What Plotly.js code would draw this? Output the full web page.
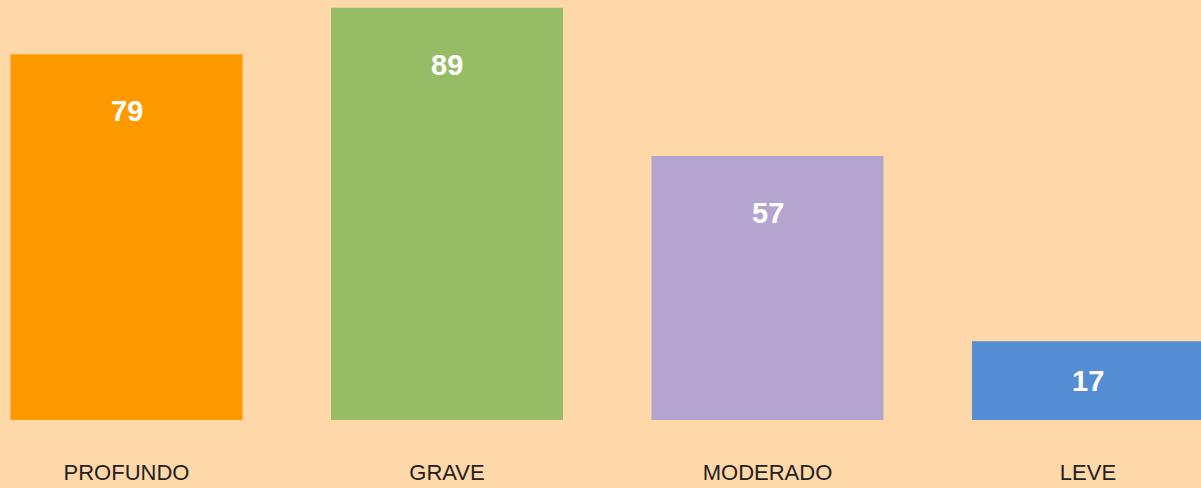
<!DOCTYPE html>
<html>
<head>
<meta charset="utf-8">
<script src="https://cdn.plot.ly/plotly-3.0.1.min.js"></script>
<style>html,body{margin:0;padding:0;background:#FFD8A9;}#chart{width:1201px;height:488px;}</style>
</head>
<body>
<div id="chart"></div>
<script>
const categories = ["PROFUNDO", "GRAVE", "MODERADO", "LEVE"];
const values = [79, 89, 57, 17];
const barColors = ["#FF9900", "#96BC65", "#B4A5D0", "#548DD4"];

const trace = {
  type: "bar",
  x: categories,
  y: values,
  marker: {color: barColors, line: {width: 0}},
  hoverinfo: "none"
};

// label sits ~12 units below the bar top, or in the middle of short bars
const annotations = categories.map((c, i) => ({
  x: c, y: Math.max(values[i] - 12.3, values[i] / 2), xref: "x", yref: "y",
  text: "<b>" + values[i] + "</b>",
  showarrow: false, yanchor: "middle",
  font: {family: "Liberation Sans, Arial, sans-serif", size: 29, color: "#FFFFFF"}
}));

const layout = {
  width: 1201, height: 488,
  margin: {l: 0, r: 0, t: 0, b: 68, pad: 0},
  paper_bgcolor: "#FFD8A9",
  plot_bgcolor: "#FFD8A9",
  bargap: 0.276,
  showlegend: false,
  xaxis: {
    type: "category",
    range: [-0.3947, 3.3526],
    showgrid: false, zeroline: false, showline: false, ticks: "",
    ticklabelstandoff: 37,
    tickfont: {family: "Liberation Sans, Arial, sans-serif", size: 22, color: "#222222"}
  },
  yaxis: {
    range: [0, 90.7],
    showgrid: false, zeroline: false, showline: false, showticklabels: false, ticks: ""
  },
  annotations: annotations
};

Plotly.newPlot("chart", [trace], layout, {displayModeBar: false, staticPlot: true});
</script>
</body>
</html>
